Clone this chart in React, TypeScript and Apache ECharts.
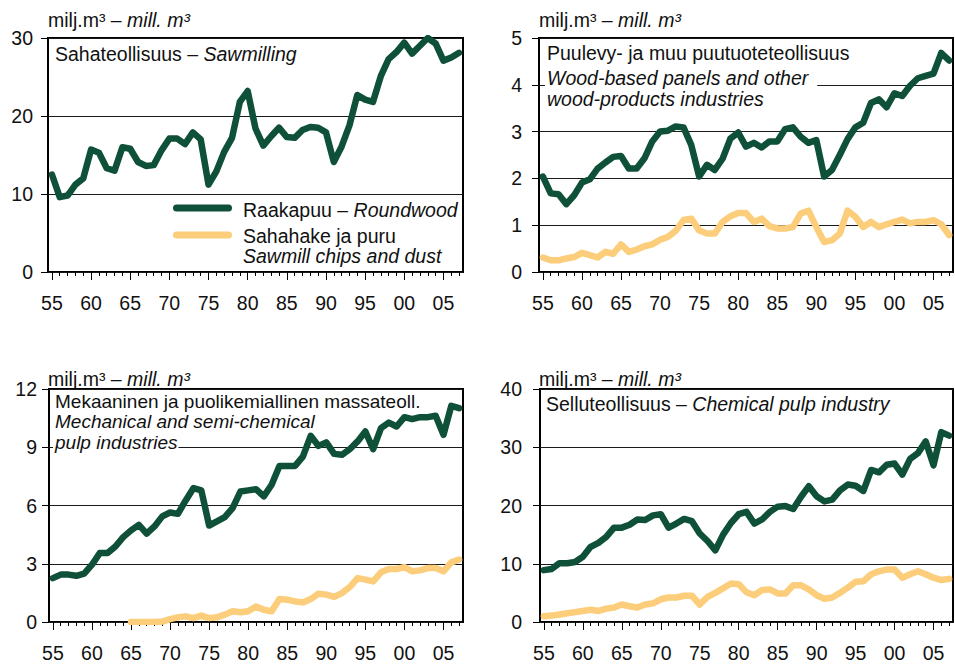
import React, { useEffect, useRef } from "react";
import * as echarts from "echarts";

// Years 1955–2007, one category per year
const YEARS: string[] = Array.from({ length: 53 }, (_, i) => String(1955 + i));

// Sahateollisuus – Sawmilling (roundwood, mill. m³)
const sawRoundwood = [
  12.5, 9.6, 9.8, 11.2, 12.0, 15.7, 15.3, 13.3, 13.0, 16.0, 15.8, 14.1, 13.6, 13.7, 15.6, 17.1, 17.1, 16.4, 17.9, 17.0, 11.2, 12.9, 15.4, 17.2, 21.8,
  23.2, 18.4, 16.2, 17.4, 18.5, 17.3, 17.2, 18.2, 18.6, 18.5, 17.9, 14.1, 16.1, 18.8, 22.7, 22.1, 21.8, 25.1, 27.3, 28.2, 29.4, 28.0, 29.0, 30.0, 29.3, 27.1, 27.5, 28.1,
];

// Puulevy- ja muu puutuoteteollisuus – Wood-based panels and other wood-products industries
const panelRoundwood = [
  2.04, 1.68, 1.66, 1.45, 1.64, 1.91, 1.98, 2.21, 2.34, 2.46, 2.48, 2.21, 2.21, 2.43, 2.79, 3.0, 3.02, 3.11, 3.09, 2.71, 2.04, 2.29, 2.18, 2.42, 2.85,
  2.98, 2.68, 2.76, 2.66, 2.79, 2.79, 3.05, 3.09, 2.89, 2.76, 2.82, 2.04, 2.18, 2.5, 2.84, 3.09, 3.19, 3.61, 3.69, 3.52, 3.82, 3.76, 3.98, 4.14, 4.19, 4.24, 4.68, 4.52,
];
const panelChips = [
  0.31, 0.25, 0.25, 0.29, 0.32, 0.41, 0.36, 0.31, 0.43, 0.39, 0.59, 0.43, 0.48, 0.55, 0.59, 0.69, 0.75, 0.88, 1.11, 1.14, 0.89, 0.82, 0.82, 1.07, 1.19,
  1.26, 1.26, 1.07, 1.14, 0.98, 0.93, 0.93, 0.96, 1.25, 1.31, 0.96, 0.64, 0.68, 0.82, 1.31, 1.18, 0.96, 1.07, 0.96, 1.02, 1.07, 1.12, 1.04, 1.07, 1.07, 1.11, 1.02, 0.79,
];

// Mekaaninen ja puolikemiallinen massateollisuus – Mechanical and semi-chemical pulp industries
const mechRoundwood = [
  2.26, 2.44, 2.44, 2.38, 2.49, 2.95, 3.55, 3.55, 3.89, 4.37, 4.72, 5.0, 4.55, 4.92, 5.44, 5.64, 5.57, 6.26, 6.9, 6.78, 4.97, 5.18, 5.4, 5.87, 6.72,
  6.78, 6.84, 6.47, 7.07, 8.04, 8.04, 8.04, 8.52, 9.59, 9.07, 9.25, 8.66, 8.61, 8.9, 9.3, 9.81, 8.9, 9.98, 10.27, 10.07, 10.55, 10.45, 10.55, 10.55, 10.62, 9.64, 11.13, 11.01,
];
const mechChips = [
  null, null, null, null, null, null, null, null, null, null,
  0, 0, 0, 0, 0.02, 0.15, 0.24, 0.29, 0.2, 0.33, 0.2, 0.24, 0.38, 0.55, 0.5,
  0.55, 0.8, 0.63, 0.55, 1.18, 1.15, 1.06, 1.01, 1.18, 1.46, 1.41, 1.29, 1.49, 1.8, 2.26, 2.18, 2.09, 2.56, 2.73, 2.73, 2.83, 2.61, 2.66, 2.78, 2.78, 2.61, 3.07, 3.21,
];

// Selluteollisuus – Chemical pulp industry
const chemRoundwood = [
  8.9, 9.1, 10.1, 10.1, 10.3, 11.2, 12.9, 13.6, 14.6, 16.2, 16.2, 16.7, 17.6, 17.5, 18.3, 18.5, 16.2, 16.9, 17.7, 17.3, 15.2, 13.9, 12.3, 15.0, 17.0,
  18.5, 18.9, 16.9, 17.6, 18.9, 19.8, 19.9, 19.4, 21.5, 23.3, 21.6, 20.7, 21.0, 22.6, 23.6, 23.4, 22.5, 26.1, 25.7, 27.0, 27.2, 25.3, 28.0, 29.0, 31.0, 26.9, 32.6, 32.0,
];
const chemChips = [
  1.0, 1.1, 1.3, 1.5, 1.7, 1.9, 2.1, 1.9, 2.3, 2.5, 3.0, 2.7, 2.5, 3.0, 3.2, 3.9, 4.2, 4.2, 4.5, 4.5, 3.0, 4.3, 5.0, 5.8, 6.6,
  6.5, 5.1, 4.6, 5.5, 5.6, 4.9, 4.9, 6.3, 6.3, 5.6, 4.6, 4.0, 4.2, 5.0, 5.9, 6.9, 7.0, 8.2, 8.7, 9.0, 9.0, 7.6, 8.2, 8.7, 8.2, 7.6, 7.2, 7.4,
];

// Value-axis ranges per panel
const Y_MAX = [30, 5, 12, 40];
const Y_STEP = [10, 1, 3, 10];

const GREEN = "#0f5038";
const YELLOW = "#fccd7a";
const INK = "#111111";
const FONT = "'Liberation Sans', Arial, sans-serif";
const FS = 19.5;

const GRIDS = [
  { left: 48, top: 38, width: 415, height: 234 },
  { left: 539, top: 38, width: 414, height: 234 },
  { left: 49, top: 389, width: 414, height: 233 },
  { left: 540, top: 389, width: 413, height: 233 },
];
const Y_LABEL_MARGIN = [15, 17, 12, 18];

function richStyles(size: number) {
  return {
    n: { fontFamily: FONT, fontSize: size, fill: INK, fontStyle: "normal" },
    i: { fontFamily: FONT, fontSize: size, fill: INK, fontStyle: "italic" },
  };
}

// A text line; with a white box it masks the grid lines behind it
function label(
  text: string,
  x: number,
  y: number,
  opts: { bg?: boolean; padRight?: number; lh?: number; size?: number } = {}
) {
  const { bg = false, padRight = 1, lh = 19, size = FS } = opts;
  return {
    type: "text",
    z: 1,
    x,
    y,
    silent: true,
    style: {
      text,
      rich: richStyles(size),
      fill: INK,
      font: `${size}px ${FONT}`,
      align: "left",
      verticalAlign: "middle",
      backgroundColor: bg ? "#ffffff" : "transparent",
      padding: [0, padRight, 0, 2],
      lineHeight: lh,
    },
  };
}

function legendLine(color: string, y: number) {
  return {
    type: "line",
    z: 3,
    silent: true,
    shape: { x1: 176.5, y1: y, x2: 228.5, y2: y },
    style: { stroke: color, lineWidth: 7, lineCap: "round" },
  };
}

export default function App() {
  const ref = useRef<HTMLDivElement>(null);

  useEffect(() => {
    if (!ref.current) return;
    const chart = echarts.init(ref.current, undefined, { renderer: "svg" });

    const grid = GRIDS.map((g) => ({
      ...g,
      show: true,
      borderColor: "#000",
      borderWidth: 2,
      backgroundColor: "transparent",
      containLabel: false,
    }));

    const xAxis: any[] = [];
    GRIDS.forEach((_, k) => {
      // yearly ticks with labels every five years
      xAxis.push({
        type: "category",
        gridIndex: k,
        position: "bottom",
        data: YEARS,
        boundaryGap: true,
        axisLine: { show: false },
        axisTick: { show: true, alignWithLabel: true, interval: 0, length: 4, lineStyle: { color: "#000", width: 1 } },
        axisLabel: {
          interval: 4,
          margin: 21,
          fontFamily: FONT,
          fontSize: FS,
          color: INK,
          formatter: (v: string) => v.slice(2),
        },
        splitLine: { show: false },
      });
      // longer ticks every five years
      xAxis.push({
        type: "category",
        gridIndex: k,
        position: "bottom",
        data: YEARS,
        boundaryGap: true,
        axisLine: { show: false },
        axisTick: { show: true, alignWithLabel: true, interval: 4, length: 8, lineStyle: { color: "#000", width: 1 } },
        axisLabel: { show: false },
        splitLine: { show: false },
      });
    });

    const yAxis = GRIDS.map((_, k) => ({
      type: "value",
      gridIndex: k,
      min: 0,
      max: Y_MAX[k],
      interval: Y_STEP[k],
      axisLine: { show: false },
      axisTick: { show: true, length: 7, lineStyle: { color: "#000", width: 1 } },
      axisLabel: { margin: Y_LABEL_MARGIN[k], fontFamily: FONT, fontSize: FS, color: INK },
      splitLine: { show: true, lineStyle: { color: "#1a1a1a", width: 1 } },
    }));

    const line = (data: (number | null)[], k: number, color: string, z: number) => ({
      type: "line",
      xAxisIndex: 2 * k,
      yAxisIndex: k,
      data,
      symbol: "none",
      showSymbol: false,
      connectNulls: false,
      z,
      lineStyle: { color, width: 6.5, join: "round", cap: "round" },
      itemStyle: { color },
      emphasis: { disabled: true },
    });

    const series = [
      line(sawRoundwood, 0, GREEN, 3),
      line(panelChips, 1, YELLOW, 2),
      line(panelRoundwood, 1, GREEN, 3),
      line(mechChips, 2, YELLOW, 2),
      line(mechRoundwood, 2, GREEN, 3),
      line(chemChips, 3, YELLOW, 2),
      line(chemRoundwood, 3, GREEN, 3),
    ];

    const unit = "{n|milj.m³ – }{i|mill. m³}";

    const graphic = [
      // unit captions above each panel
      label(unit, 46, 20),
      label(unit, 537, 20),
      label(unit, 46, 379),
      label(unit, 537, 379),
      // panel titles
      label("{n|Sahateollisuus – }{i|Sawmilling}", 53, 54),
      label("{n|Puulevy- ja muu puutuoteteollisuus}", 545, 53),
      label("{i|Wood-based panels and other}", 545, 78, { bg: true, padRight: 9, lh: 22 }),
      label("{i|wood-products industries}", 545, 99),
      label("{n|Mekaaninen ja puolikemiallinen massateoll.}", 53, 401, { size: 19 }),
      label("{i|Mechanical and semi-chemical}", 53, 421.5, { size: 19 }),
      label("{i|pulp industries}", 53, 442, { bg: true, padRight: 1, lh: 18, size: 19 }),
      label("{n|Selluteollisuus – }{i|Chemical pulp industry}", 544, 404),
      // legend
      legendLine(GREEN, 208),
      legendLine(YELLOW, 235),
      label("{n|Raakapuu – }{i|Roundwood}", 241, 210),
      label("{n|Sahahake ja puru}", 241, 236),
      label("{i|Sawmill chips and dust}", 241, 256),
    ];

    chart.setOption({
      animation: false,
      backgroundColor: "#ffffff",
      textStyle: { fontFamily: FONT },
      grid,
      xAxis,
      yAxis,
      series,
      graphic,
    });

    return () => chart.dispose();
  }, []);

  return (
    <div
      ref={ref}
      style={{ position: "absolute", left: 0, top: 0, width: 955, height: 668, background: "#fff" }}
    />
  );
}
